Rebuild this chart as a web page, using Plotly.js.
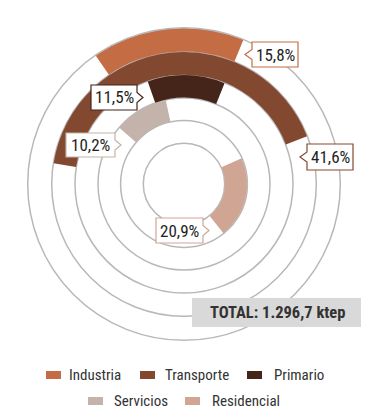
<!DOCTYPE html>
<html>
<head>
<meta charset="utf-8">
<script src="https://cdn.plot.ly/plotly-3.0.1.min.js"></script>
<style>html,body{margin:0;padding:0;background:#fff;}#chart{width:368px;height:414px;}</style>
</head>
<body>
<div id="chart"></div>
<script>
// ---- data ----
const categories = ['Industria', 'Transporte', 'Primario', 'Servicios', 'Residencial'];
const shares = [15.8, 41.6, 11.5, 10.2, 20.9];          // % of final consumption
const totalText = 'TOTAL: 1.296,7 ktep';
const colors = ['#c46d45', '#834830', '#45251a', '#c4b3aa', '#d1a594'];

// ---- layout config (positions / styles) ----
const W = 368, H = 414;
const CX = 184, CY = 184;
const bounds = [40.7, 63.4, 86.0, 109.0, 132.3, 156.3];  // ring boundaries in px
const ringOf = [4, 3, 2, 1, 0];                         // ring index per category
const startAngle = [-34.5, -81, -19.5, -49, 66];        // clockwise from top
const degPerPct = 3.6;
const callouts = [
  {x0: 252, x1: 298, y0: 42, y1: 67, side: 'left', tip: 245},
  {x0: 307, x1: 353, y0: 144, y1: 170, side: 'left', tip: 300},
  {x0: 91, x1: 137, y0: 85, y1: 110, side: 'right', tip: 143},
  {x0: 66, x1: 115, y0: 133, y1: 157, side: 'right', tip: 121},
  {x0: 156, x1: 203, y0: 218, y1: 243, side: 'right', tip: 209}
];
const legendPos = [
  {sx: 46, tx: 67, y: 375}, {sx: 140, tx: 163, y: 375}, {sx: 247, tx: 272, y: 375},
  {sx: 88, tx: 112, y: 401}, {sx: 185, tx: 210, y: 401}
];
const FONT = '"Roboto Condensed", "Liberation Sans Narrow", "DejaVu Sans Condensed", "Arial Narrow", Roboto, sans-serif';
const px = x => x / W;
const py = y => 1 - y / H;
const fmt = v => v.toFixed(1).replace('.', ',') + '%';

// ---- traces ----
const traces = categories.map((c, i) => {
  const k = ringOf[i];
  const span = shares[i] * degPerPct;
  return {
    type: 'barpolar',
    name: c,
    r: [bounds[k + 1] - bounds[k] - 0.6],
    base: [bounds[k] + 0.3],
    theta: [startAngle[i] + span / 2],
    width: [span],
    marker: {color: colors[i], line: {width: 0}},
    showlegend: false,
    hoverinfo: 'name'
  };
});

// ---- shapes & annotations ----
const shapes = [];
const annotations = [];
callouts.forEach((b, i) => {
  const ym = (b.y0 + b.y1) / 2;
  let d;
  if (b.side === 'left') {
    d = `M${px(b.x0)},${py(b.y0)} L${px(b.x1)},${py(b.y0)} L${px(b.x1)},${py(b.y1)} L${px(b.x0)},${py(b.y1)} L${px(b.x0)},${py(ym + 5)} L${px(b.tip)},${py(ym)} L${px(b.x0)},${py(ym - 5)} Z`;
  } else {
    d = `M${px(b.x0)},${py(b.y0)} L${px(b.x1)},${py(b.y0)} L${px(b.x1)},${py(ym - 5)} L${px(b.tip)},${py(ym)} L${px(b.x1)},${py(ym + 5)} L${px(b.x1)},${py(b.y1)} L${px(b.x0)},${py(b.y1)} Z`;
  }
  shapes.push({type: 'path', xref: 'paper', yref: 'paper', path: d,
    fillcolor: '#ffffff', line: {color: colors[i], width: 1.2}});
  annotations.push({xref: 'paper', yref: 'paper', x: px((b.x0 + b.x1) / 2), y: py(ym),
    xanchor: 'center', yanchor: 'middle', showarrow: false, text: fmt(shares[i]),
    font: {family: FONT, size: 17, color: '#1e1e1e'}});
});

// total box
shapes.push({type: 'rect', xref: 'paper', yref: 'paper', x0: px(192), x1: px(361), y0: py(298), y1: py(327),
  fillcolor: '#d9d9d9', line: {width: 0}});
annotations.push({xref: 'paper', yref: 'paper', x: px(277), y: py(312.5), xanchor: 'center', yanchor: 'middle',
  showarrow: false, text: totalText, font: {family: FONT, size: 16.5, color: '#333333', weight: 'bold'}});

// legend
legendPos.forEach((p, i) => {
  shapes.push({type: 'rect', xref: 'paper', yref: 'paper', x0: px(p.sx), x1: px(p.sx + 15),
    y0: py(p.y - 4), y1: py(p.y + 4), fillcolor: colors[i], line: {width: 0}});
  annotations.push({xref: 'paper', yref: 'paper', x: px(p.tx), y: py(p.y), xanchor: 'left', yanchor: 'middle',
    showarrow: false, text: categories[i], font: {family: FONT, size: 15, color: '#333333'}});
});

const R = bounds[bounds.length - 1];
const layout = {
  width: W, height: H,
  margin: {l: 0, r: 0, t: 0, b: 0},
  paper_bgcolor: '#ffffff',
  showlegend: false,
  polar: {
    domain: {x: [px(CX - R), px(CX + R)], y: [py(CY + R), py(CY - R)]},
    bgcolor: '#ffffff',
    bargap: 0,
    radialaxis: {range: [0, R], tickvals: bounds.slice(0, -1), showticklabels: false, ticks: '',
      showline: false, showgrid: true, gridcolor: '#b8b8b8', gridwidth: 1.5},
    angularaxis: {rotation: 90, direction: 'clockwise', showgrid: false, showticklabels: false, ticks: '',
      showline: true, linecolor: '#b8b8b8', linewidth: 1.5}
  },
  shapes: shapes,
  annotations: annotations
};

Plotly.newPlot('chart', traces, layout, {displayModeBar: false, staticPlot: true});
</script>
</body>
</html>
